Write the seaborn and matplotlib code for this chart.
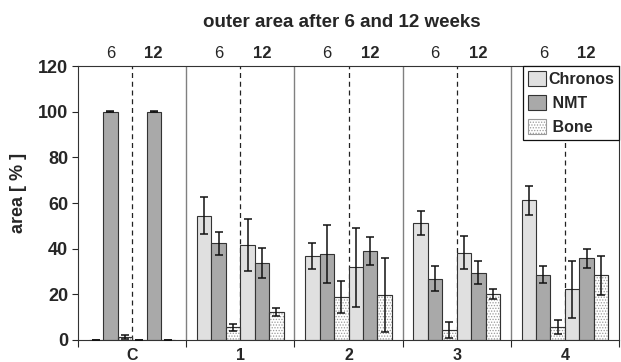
import numpy as np
import pandas as pd
import matplotlib
matplotlib.use('Agg')
import matplotlib.pyplot as plt
import seaborn as sns
from matplotlib.patches import Patch, Rectangle
from matplotlib.ticker import FixedLocator, NullFormatter

# --- data ---
groups = ['C', '1', '2', '3', '4']
materials = ['Chronos', 'NMT', 'Bone']
weeks = ['6', '12']

chronos_6 = [0, 54.5, 36.8, 51.4, 61.2]
chronos_6_err = [0, 8.1, 5.9, 5.3, 6.3]
nmt_6 = [100, 42.3, 37.7, 26.9, 28.6]
nmt_6_err = [0.3, 4.9, 12.8, 5.3, 3.6]
bone_6 = [1.2, 5.5, 18.7, 4.2, 5.7]
bone_6_err = [0.8, 1.6, 7.0, 3.5, 2.9]
chronos_12 = [0, 41.5, 31.8, 38.2, 22.2]
chronos_12_err = [0, 11.3, 17.4, 7.3, 12.4]
nmt_12 = [100, 33.7, 39.1, 29.5, 35.8]
nmt_12_err = [0.3, 6.6, 6.2, 5.0, 4.2]
bone_12 = [0, 12.1, 19.6, 20.1, 28.3]
bone_12_err = [0, 1.8, 16.2, 2.1, 8.5]

series = {
    'Chronos 6': (chronos_6, chronos_6_err),
    'NMT 6': (nmt_6, nmt_6_err),
    'Bone 6': (bone_6, bone_6_err),
    'Chronos 12': (chronos_12, chronos_12_err),
    'NMT 12': (nmt_12, nmt_12_err),
    'Bone 12': (bone_12, bone_12_err),
}
series_order = list(series.keys())

rows = []
for name, (vals, errs) in series.items():
    for g, v, e in zip(groups, vals, errs):
        rows.append({'group': g, 'series': name, 'value': v, 'err': e})
df = pd.DataFrame(rows)

mat_colors = {'Chronos': '#e0e0e0', 'NMT': '#a9a9a9', 'Bone': '#ffffff'}
palette = {s: mat_colors[s.split()[0]] for s in series_order}

sns.set_style('ticks')
plt.rcParams['font.family'] = ['Liberation Sans', 'DejaVu Sans']
plt.rcParams['hatch.linewidth'] = 0.6

fig = plt.figure(figsize=(6.21, 3.62), dpi=100)
ax = fig.add_axes([78 / 621, 1 - 340 / 362, 541 / 621, 274 / 362])

sns.barplot(data=df, x='group', y='value', hue='series', hue_order=series_order,
            order=groups, palette=palette, errorbar=None, width=0.8, saturation=1,
            edgecolor='#333333', linewidth=0.8, legend=False, ax=ax, zorder=2)

# error bars and hatch for bone bars
bar_containers = list(ax.containers)
for k, cont in enumerate(bar_containers):
    name = series_order[k]
    errs = series[name][1]
    xs, ys = [], []
    for p in cont.patches:
        xs.append(p.get_x() + p.get_width() / 2)
        ys.append(p.get_height())
        if name.startswith('Bone'):
            p.set_hatch('......')
            p.set_edgecolor('#9a9a9a')
            ax.add_patch(Rectangle(p.get_xy(), p.get_width(), p.get_height(),
                                   fill=False, ec='#333333', lw=0.8, zorder=3))
    ax.errorbar(xs, ys, yerr=errs, fmt='none', ecolor='#111111', elinewidth=1.1,
                capsize=3, capthick=1.1, zorder=4)

n = len(groups)
ax.set_xlim(-0.5, n - 0.5)
ax.set_ylim(0, 120)
ax.set_yticks(np.arange(0, 121, 20))

# separators between groups and dashed week split inside each group
for i in range(n - 1):
    ax.axvline(i + 0.5, color='#808080', lw=1.0, zorder=0)
for i in range(n):
    ax.axvline(i, color='#222222', lw=0.9, ls=(0, (4, 3)), zorder=0)

ax.xaxis.set_major_locator(FixedLocator(np.arange(-0.5, n, 1.0)))
ax.xaxis.set_major_formatter(NullFormatter())
ax.xaxis.set_minor_locator(FixedLocator(np.arange(n)))
ax.set_xticklabels(groups, minor=True)
ax.tick_params(axis='x', which='minor', length=0, pad=6, labelsize=11.5)
ax.tick_params(axis='x', which='major', length=5, direction='out', width=0.8)
ax.tick_params(axis='y', length=4, direction='out', width=0.8, labelsize=13, pad=3)
for lab in ax.get_xticklabels(minor=True) + ax.get_yticklabels():
    lab.set_fontweight('bold')

ax.set_xlabel('')
ax.set_ylabel('area [ % ]', fontsize=13, fontweight='bold')
ax.yaxis.set_label_coords(-0.094, 0.536)

for sp in ax.spines.values():
    sp.set_visible(True)
    sp.set_color('#333333')
    sp.set_linewidth(0.8)

# week labels above the axes
for i in range(n):
    ax.annotate(weeks[0], (i - 0.2, 1.045), xycoords=('data', 'axes fraction'),
                ha='center', va='center', fontsize=12)
    ax.annotate(weeks[1], (i + 0.2, 1.045), xycoords=('data', 'axes fraction'),
                ha='center', va='center', fontsize=12, fontweight='bold')

ax.text(0.487, 1.16, 'outer area after 6 and 12 weeks', transform=ax.transAxes,
        ha='center', va='center', fontsize=13.5, fontweight='bold')

handles = [Patch(facecolor=mat_colors['Chronos'], edgecolor='#333333', lw=0.8),
           Patch(facecolor=mat_colors['NMT'], edgecolor='#333333', lw=0.8),
           Patch(facecolor='white', edgecolor='#9a9a9a', hatch='......', lw=0.8)]
leg = ax.legend(handles, ['Chronos', ' NMT', ' Bone'], loc='upper right',
                bbox_to_anchor=(1.0, 1.0), borderaxespad=0.0, fancybox=False,
                framealpha=1, edgecolor='#111111', handlelength=1.15, handleheight=1.1,
                handletextpad=0.15, labelspacing=0.5, borderpad=0.3,
                prop={'weight': 'bold', 'size': 11.5})
leg.get_frame().set_linewidth(0.9)
leg.set_zorder(10)

fig.savefig('out.png', dpi=100)
